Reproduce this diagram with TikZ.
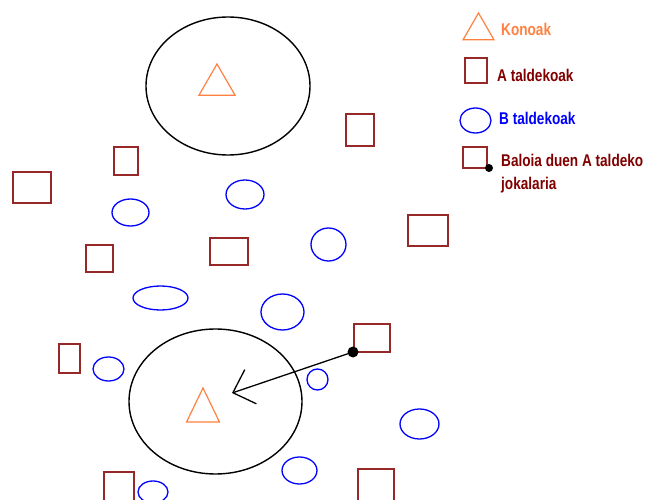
\documentclass[tikz,border=0pt]{standalone}
\usepackage{fontspec}
\newfontfamily\legfont[FakeStretch=0.8]{Liberation Sans}
\usetikzlibrary{shapes.geometric,arrows.meta}
\definecolor{konoakc}{RGB}{255,128,64}
\definecolor{sqc}{RGB}{150,40,40}
\definecolor{sqtext}{RGB}{128,0,0}
\definecolor{bluec}{RGB}{0,0,255}
\tikzset{
  area/.style={draw=black, line width=1.4pt, ellipse, inner sep=0pt},
  konoakshape/.style={draw=konoakc, line width=1.2pt, regular polygon, regular polygon sides=3, inner sep=0pt},
  apl/.style={draw=sqc, line width=1.6pt, rectangle, inner sep=0pt},
  bpl/.style={draw=bluec, line width=1.3pt, ellipse, inner sep=0pt},
  ballc/.style={circle, fill=black, inner sep=0pt},
  pass/.style={draw=black, line width=1.3pt, -{Straight Barb[angle=88:26pt, line width=1.3pt]}},
  legtext/.style={anchor=base west, inner sep=0pt, font=\legfont\bfseries\fontsize{17}{20}\selectfont},
}
\begin{document}
\begin{tikzpicture}[x=1pt, y=-1pt]
\useasboundingbox (0,0) rectangle (649,500);

% areas
\node[area, minimum width=164, minimum height=138] (topArea) at (228,86) {};
\node[area, minimum width=173, minimum height=145] (botArea) at (215.5,401.5) {};

% goals (Konoak)
\node[konoakshape, minimum size=41.6] (topGoal) at (217,84.8) {};
\node[konoakshape, minimum size=38.1, yscale=1.19] (botGoal) at (203,410.7) {};

% A team
\node[apl, minimum width=28, minimum height=32] (a1) at (360,130) {};
\node[apl, minimum width=24, minimum height=28] (a2) at (126,161) {};
\node[apl, minimum width=38, minimum height=31] (a3) at (32,187.5) {};
\node[apl, minimum width=40, minimum height=31] (a4) at (428,230.5) {};
\node[apl, minimum width=38, minimum height=27] (a5) at (229,251.5) {};
\node[apl, minimum width=27, minimum height=27] (a6) at (99.5,258.5) {};
\node[apl, minimum width=36, minimum height=28] (a7) at (372,338) {};
\node[apl, minimum width=21, minimum height=29] (a8) at (69.5,358.5) {};
\node[apl, minimum width=30, minimum height=33] (a9) at (119,488.5) {};
\node[apl, minimum width=36, minimum height=36] (a10) at (376,487) {};

% B team
\node[bpl, minimum width=38, minimum height=29] (b1) at (245,194.5) {};
\node[bpl, minimum width=37, minimum height=27] (b2) at (130.5,212.5) {};
\node[bpl, minimum width=35, minimum height=33] (b3) at (328.5,244.5) {};
\node[bpl, minimum width=55, minimum height=24] (b4) at (160.5,298) {};
\node[bpl, minimum width=43, minimum height=36] (b5) at (282.5,312) {};
\node[bpl, minimum width=31, minimum height=24] (b6) at (108.5,369) {};
\node[bpl, minimum width=21, minimum height=21] (b7) at (317.5,379.5) {};
\node[bpl, minimum width=39, minimum height=30] (b8) at (419.5,424) {};
\node[bpl, minimum width=35, minimum height=27] (b9) at (299.5,470.5) {};
\node[bpl, minimum width=30, minimum height=22] (b10) at (153,492) {};

% ball and pass
\node[ballc, minimum size=11] (ball) at (353,352) {};
\coordinate (passEnd) at (232,393);
\draw[pass] (ball.center) -- (passEnd);

% legend
\node[konoakshape, minimum size=35.8] (legGoal) at (478.5,30.9) {};
\node[legtext, text=konoakc] (legGoalT) at (501,36) {Konoak};
\node[apl, minimum width=22, minimum height=25] (legA) at (476,70.5) {};
\node[legtext, text=sqtext] (legAT) at (497,82) {A taldekoak};
\node[bpl, minimum width=31, minimum height=25] (legB) at (475.5,120.5) {};
\node[legtext, text=bluec] (legBT) at (499,125) {B taldekoak};
\node[apl, minimum width=24, minimum height=21] (legBallSq) at (475,157.5) {};
\node[ballc, minimum size=8] (legBall) at (489,168) {};
\node[legtext, text=sqtext] (legBallT1) at (501,167) {Baloia duen A taldeko};
\node[legtext, text=sqtext] (legBallT2) at (501,190) {jokalaria};
\end{tikzpicture}
\end{document}
